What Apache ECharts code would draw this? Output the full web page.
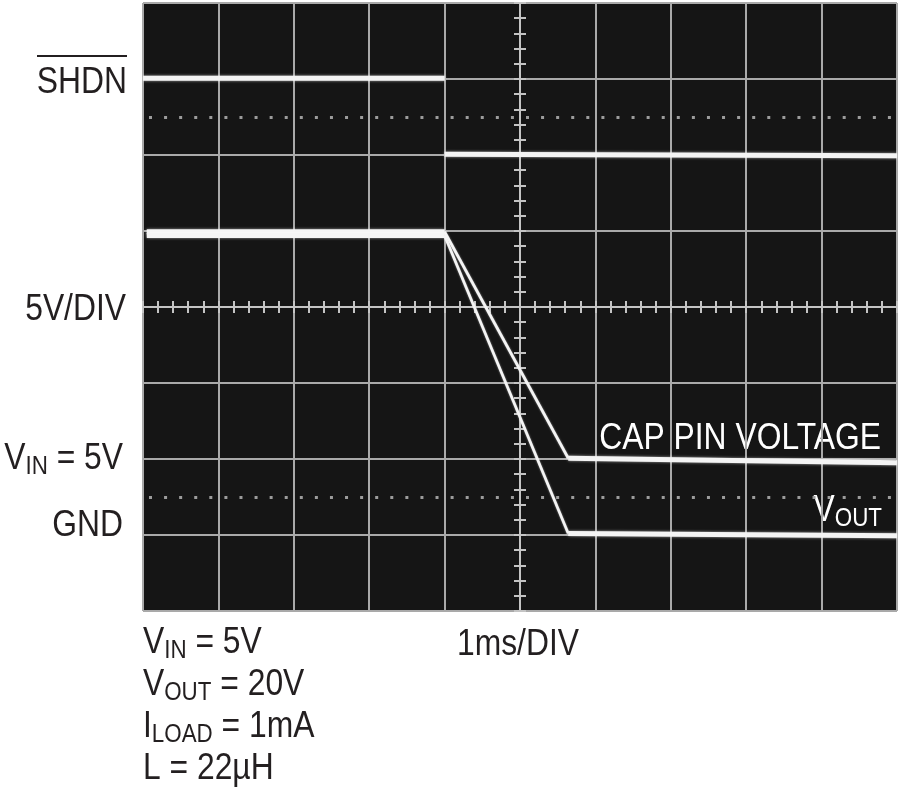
<!DOCTYPE html>
<html>
<head>
<meta charset="utf-8">
<script src="https://cdn.jsdelivr.net/npm/echarts@6/dist/echarts.min.js"></script>
<style>
  html, body { margin: 0; padding: 0; background: #fff; }
  #main { width: 900px; height: 793px; }
</style>
</head>
<body>
<div id="main"></div>
<script>
// scope screen: 10 x 8 divisions, centre of screen = (0, 0)
// time in ms (1ms/DIV), traces in divisions (5V/DIV)
var shdnT = [-5, -1.0, -1.0, 5];
var shdnV = [3.01, 3.01, 2.01, 1.99];

var capT = [-4.95, -1.0, 0.64, 5];
var capV = [0.99, 0.99, -1.99, -2.05];

var voutT = [-4.95, -1.0, 0.64, 5];
var voutV = [0.94, 0.94, -2.98, -3.01];

// rise time marker rows (dotted)
var markerRows = [2.5, -2.5];

var FONT = "'Liberation Sans', Arial, sans-serif";
var NARROW = 0.86;   // squeeze Liberation Sans to a condensed look
var TRACE = '#f4f4f4';
var INK = '#231f20';

function pts(t, v, from, to) {
    var out = [];
    for (var i = from; i <= to; i++) out.push([t[i], v[i]]);
    return out;
}

// flat parts of a trace are bright/thick, the fast edges thin
function traceSeries(name, t, v, holds, ramps) {
    var list = [];
    holds.forEach(function (h) {
        list.push({
            name: name, type: 'line', symbol: 'none', silent: true,
            data: pts(t, v, h[0], h[1]),
            lineStyle: { color: TRACE, width: 5, shadowColor: 'rgba(255,255,255,0.6)', shadowBlur: 3 },
            z: 5
        });
    });
    ramps.forEach(function (r) {
        list.push({
            name: name, type: 'line', symbol: 'none', silent: true,
            data: pts(t, v, r[0], r[1]),
            lineStyle: { color: TRACE, width: 2.8, shadowColor: 'rgba(255,255,255,0.5)', shadowBlur: 2 },
            z: 5
        });
    });
    return list;
}

function rich(color, size, subSize, lh, subLh) {
    return {
        m: { fontFamily: FONT, fontSize: size, fill: color, lineHeight: lh },
        s: { fontFamily: FONT, fontSize: subSize, fill: color, lineHeight: subLh, verticalAlign: 'bottom' }
    };
}

function label(x, y, text, color, size, align) {
    return {
        type: 'text', x: x, y: y, scaleX: NARROW,
        style: { text: text, font: size + 'px ' + FONT, fill: color, align: align || 'right', verticalAlign: 'middle' }
    };
}

function richLabel(x, y, text, color, size, align) {
    return {
        type: 'text', x: x, y: y, scaleX: NARROW,
        style: { text: text, rich: rich(color, size, Math.round(size * 0.7), 42, 24), align: align || 'right', verticalAlign: 'middle' }
    };
}

var chartDom = document.getElementById('main');
var myChart = echarts.init(chartDom);

var gridCol = '#a9a9a9';
var tickCol = '#c4c4c4';
function centreAxis(extra) {
    return Object.assign({
        type: 'value',
        axisLabel: { show: false },
        axisLine: { show: true, lineStyle: { color: tickCol, width: 2 } },
        axisTick: { show: true, inside: false, length: 6, lineStyle: { color: tickCol, width: 2 } },
        minorTick: { show: true, splitNumber: 5, length: 6, lineStyle: { color: tickCol, width: 2 } }
    }, extra);
}

var series = []
    .concat(traceSeries('SHDN', shdnT, shdnV, [[0, 1], [2, 3]], []))
    .concat(traceSeries('CAP PIN VOLTAGE', capT, capV, [[0, 1], [2, 3]], [[1, 2]]))
    .concat(traceSeries('VOUT', voutT, voutV, [[0, 1], [2, 3]], [[1, 2]]));

series[0].markLine = {
    silent: true,
    symbol: 'none',
    label: { show: false },
    lineStyle: { color: '#9c9c9c', width: 3, type: [3, 12.08], dashOffset: -6 },
    data: markerRows.map(function (y) { return { yAxis: y }; })
};

var option = {
    backgroundColor: '#ffffff',
    animation: false,
    grid: {
        left: 143, right: 3, top: 3, bottom: 182,
        show: true, backgroundColor: '#151515', borderColor: '#8a8a8a', borderWidth: 1
    },
    xAxis: [
        centreAxis({
            min: -5, max: 5, interval: 1, position: 'bottom',
            axisLine: { show: true, onZero: true, lineStyle: { color: tickCol, width: 2 } },
            splitLine: { show: true, lineStyle: { color: gridCol, width: 2 } }
        }),
        centreAxis({
            min: -5, max: 5, interval: 1, position: 'top', offset: -304,
            axisLine: { show: true, onZero: false, lineStyle: { color: tickCol, width: 2 } },
            splitLine: { show: false }
        })
    ],
    yAxis: [
        centreAxis({
            min: -4, max: 4, interval: 1, position: 'left',
            axisLine: { show: true, onZero: true, lineStyle: { color: tickCol, width: 2 } },
            splitLine: { show: true, lineStyle: { color: gridCol, width: 2 } }
        }),
        centreAxis({
            min: -4, max: 4, interval: 1, position: 'right', offset: -377,
            axisLine: { show: true, onZero: false, lineStyle: { color: tickCol, width: 2 } },
            splitLine: { show: false }
        })
    ],
    series: series,
    graphic: [
        // left column
        label(127, 83, 'SHDN', INK, 37),
        { type: 'line', shape: { x1: 37, y1: 56, x2: 127, y2: 56 }, style: { stroke: INK, lineWidth: 2 } },
        label(126, 310, '5V/DIV', INK, 37),
        richLabel(123, 459, '{m|V}{s|IN}{m| = 5V}', INK, 37),
        label(123, 526, 'GND', INK, 37),
        // inside the screen
        label(881, 439, 'CAP PIN VOLTAGE', '#ffffff', 37),
        richLabel(882, 511, '{m|V}{s|OUT}', '#ffffff', 37),
        // test conditions
        richLabel(143, 706, '{m|V}{s|IN}{m| = 5V}\n{m|V}{s|OUT}{m| = 20V}\n{m|I}{s|LOAD}{m| = 1mA}\n{m|L = 22µH}', INK, 37, 'left'),
        label(457, 645, '1ms/DIV', INK, 37, 'left')
    ]
};

option && myChart.setOption(option);
</script>
</body>
</html>
